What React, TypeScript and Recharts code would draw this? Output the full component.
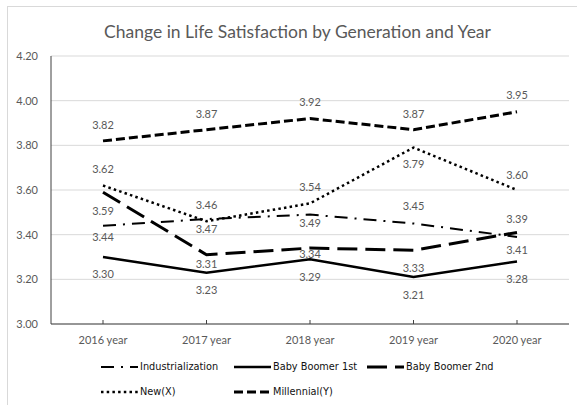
import React from 'react';
import { LineChart, Line, XAxis, YAxis, CartesianGrid, Legend, LabelList } from 'recharts';

const years = ['2016 year', '2017 year', '2018 year', '2019 year', '2020 year'];
const industrialization = [3.44, 3.47, 3.49, 3.45, 3.39];
const babyBoomer1st = [3.3, 3.23, 3.29, 3.21, 3.28];
const babyBoomer2nd = [3.59, 3.31, 3.34, 3.33, 3.41];
const newX = [3.62, 3.46, 3.54, 3.79, 3.6];
const millennialY = [3.82, 3.87, 3.92, 3.87, 3.95];
const yTicks = [3.0, 3.2, 3.4, 3.6, 3.8, 4.0, 4.2];

const data = years.map((year, i) => ({
  year,
  ind: industrialization[i],
  bb1: babyBoomer1st[i],
  bb2: babyBoomer2nd[i],
  newx: newX[i],
  mil: millennialY[i],
}));

type Series = {
  key: string;
  name: string;
  dash?: string;
  width: number;
  labelDy: number[];
};

const series: Series[] = [
  { key: 'ind', name: 'Industrialization', dash: '13 7 2 7', width: 2, labelDy: [11, 9, 8, -18, -18] },
  { key: 'bb1', name: 'Baby Boomer 1st', width: 2.5, labelDy: [16, 17, 17, 17, 17] },
  { key: 'bb2', name: 'Baby Boomer 2nd', dash: '20 8', width: 3, labelDy: [18, 9, 5, 17, 17] },
  { key: 'newx', name: 'New(X)', dash: '2.5 3.2', width: 2.5, labelDy: [-17, -17, -17, 16, -16] },
  { key: 'mil', name: 'Millennial(Y)', dash: '9 4', width: 3, labelDy: [-16, -16, -17, -16, -17] },
];

const GRAY = '#595959';
const FONT = 'Lato, "Open Sans", sans-serif';

const makeLabel = (s: Series) => (props: any) => {
  const { x, y, value, index } = props;
  if (x == null || y == null) return null;
  return (
    <text
      x={x}
      y={y + s.labelDy[index]}
      textAnchor="middle"
      dominantBaseline="central"
      fontFamily={FONT}
      fontSize={11}
      fill={GRAY}
    >
      {Number(value).toFixed(2)}
    </text>
  );
};

const LegendContent = () => (
  <div
    style={{
      display: 'grid',
      gridTemplateColumns: '133px 133px 133px',
      gridAutoRows: '25px',
      fontFamily: '"DejaVu Sans", sans-serif',
      fontSize: 9.75,
      color: '#111',
    }}
  >
    {series.map((s) => (
      <div key={s.key} style={{ display: 'flex', alignItems: 'center', whiteSpace: 'nowrap' }}>
        <svg width={37} height={10} style={{ marginRight: 2 }}>
          <line
            x1={0}
            y1={5}
            x2={37}
            y2={5}
            stroke="#000"
            strokeWidth={s.width}
            strokeDasharray={s.dash}
          />
        </svg>
        <span>{s.name}</span>
      </div>
    ))}
  </div>
);

export default function App() {
  return (
    <div style={{ position: 'absolute', left: 0, top: 0, width: 577, height: 405, overflow: 'hidden', background: '#fff' }}>
      <div
        style={{
          position: 'absolute',
          left: 7,
          top: 6,
          width: 620,
          height: 450,
          border: '1px solid #d9d9d9',
          boxSizing: 'border-box',
        }}
      />
      <div
        style={{
          position: 'absolute',
          left: 0,
          top: 21,
          width: 595,
          textAlign: 'center',
          fontFamily: FONT,
          fontSize: 17.5,
          lineHeight: '22px',
          color: GRAY,
        }}
      >
        Change in Life Satisfaction by Generation and Year
      </div>
      <div style={{ position: 'absolute', left: 0, top: 0 }}>
        <LineChart width={577} height={405} data={data} margin={{ top: 56, right: 8, left: 11, bottom: 51 }}>
          <CartesianGrid vertical={false} stroke="#d9d9d9" />
          <XAxis
            dataKey="year"
            padding={{ left: 52, right: 52 }}
            axisLine={{ stroke: '#404040' }}
            tickLine={{ stroke: '#404040' }}
            tickSize={-4}
            tickMargin={16}
            tick={{ fontFamily: FONT, fontSize: 11, fill: GRAY }}
            interval={0}
          />
          <YAxis
            width={40}
            domain={[3, 4.2]}
            ticks={yTicks}
            tickFormatter={(v: number) => v.toFixed(2)}
            axisLine={{ stroke: '#404040' }}
            tickLine={false}
            tickSize={0}
            tickMargin={13}
            tick={{ fontFamily: FONT, fontSize: 11, fill: GRAY }}
            interval={0}
          />
          {series.map((s) => (
            <Line
              key={s.key}
              dataKey={s.key}
              name={s.name}
              type="linear"
              stroke="#000"
              strokeWidth={s.width}
              strokeDasharray={s.dash}
              dot={false}
              activeDot={false}
              isAnimationActive={false}
            >
              <LabelList dataKey={s.key} content={makeLabel(s)} />
            </Line>
          ))}
          <Legend
            layout="horizontal"
            verticalAlign="middle"
            align="center"
            content={LegendContent}
            wrapperStyle={{ top: 354, left: 101, width: 420, height: 50 }}
          />
        </LineChart>
      </div>
    </div>
  );
}
